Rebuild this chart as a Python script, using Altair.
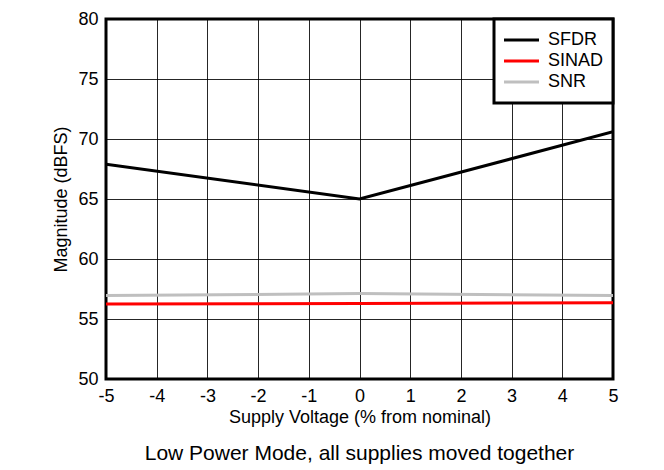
import altair as alt
import pandas as pd

# ---- data ----
supply_pct = [-5, 0, 5]
sfdr = [67.9, 65.0, 70.6]
sinad = [56.25, 56.3, 56.35]
snr = [56.95, 57.12, 56.95]

series_names = ["SFDR", "SINAD", "SNR"]
series_colors = ["#000000", "#FF0000", "#BFBFBF"]
x_ticks = list(range(-5, 6))
y_ticks = [50, 55, 60, 65, 70, 75, 80]
caption = "Low Power Mode, all supplies moved together"

rows = []
for name, vals in zip(series_names, [sfdr, sinad, snr]):
    for x, v in zip(supply_pct, vals):
        rows.append({"x": x, "y": v, "series": name})
df = pd.DataFrame(rows)

W, H = 507, 360
FONT = "Liberation Sans"

color_scale = alt.Scale(domain=series_names, range=series_colors)

lines = alt.Chart(df).mark_line(strokeWidth=3, clip=True).encode(
    x=alt.X("x:Q", scale=alt.Scale(domain=[-5, 5], nice=False),
            axis=alt.Axis(values=x_ticks, title="Supply Voltage (% from nominal)",
                          labelExpr="'' + datum.value", grid=True, ticks=False,
                          domain=False, labelPadding=8, titlePadding=3,
                          labelFontSize=18, titleFontSize=18, labelFlush=False)),
    y=alt.Y("y:Q", scale=alt.Scale(domain=[50, 80], nice=False, zero=False),
            axis=alt.Axis(values=y_ticks, title="Magnitude (dBFS)", grid=True,
                          ticks=False, domain=False, labelPadding=8, titlePadding=7,
                          labelFontSize=18, titleFontSize=18, labelFlush=False)),
    color=alt.Color("series:N", scale=color_scale, legend=None),
    order=alt.Order("x:Q"),
)

legend_box = alt.Chart(pd.DataFrame({"k": [0]})).mark_rect(
    fill="white", stroke="black", strokeWidth=3
).encode(x=alt.value(388), x2=alt.value(W), y=alt.value(0), y2=alt.value(84))

leg_df = pd.DataFrame({"series": series_names})
leg_y = alt.Y("series:N", scale=alt.Scale(type="point", domain=series_names,
                                           range=[21, 63], padding=0), axis=None)
legend_lines = alt.Chart(leg_df).mark_rule(strokeWidth=3).encode(
    x=alt.value(398), x2=alt.value(433), y=leg_y,
    color=alt.Color("series:N", scale=color_scale, legend=None),
)
legend_text = alt.Chart(leg_df).mark_text(
    align="left", baseline="middle", fontSize=18, font=FONT, color="black"
).encode(x=alt.value(442), y=leg_y, text="series:N")

cap = alt.Chart(pd.DataFrame({"t": [caption]})).mark_text(
    align="center", baseline="middle", fontSize=21, font=FONT, color="black"
).encode(x=alt.value(W / 2), y=alt.value(435), text="t:N")

chart = alt.layer(lines, legend_box, legend_lines, legend_text, cap).resolve_scale(
    y="independent"
).properties(
    width=W, height=H,
    autosize=alt.AutoSizeParams(type="none"),
    padding={"left": 98, "top": 11, "right": 40, "bottom": 90},
).configure(font=FONT).configure_view(
    stroke="black", strokeWidth=3
).configure_axis(
    gridColor="#000000", gridWidth=1, gridOpacity=0.85,
    labelColor="black", titleColor="black",
    labelFont=FONT, titleFont=FONT, titleFontWeight="normal",
)

chart.save("out.html", embed_options={"renderer": "svg", "actions": False})
